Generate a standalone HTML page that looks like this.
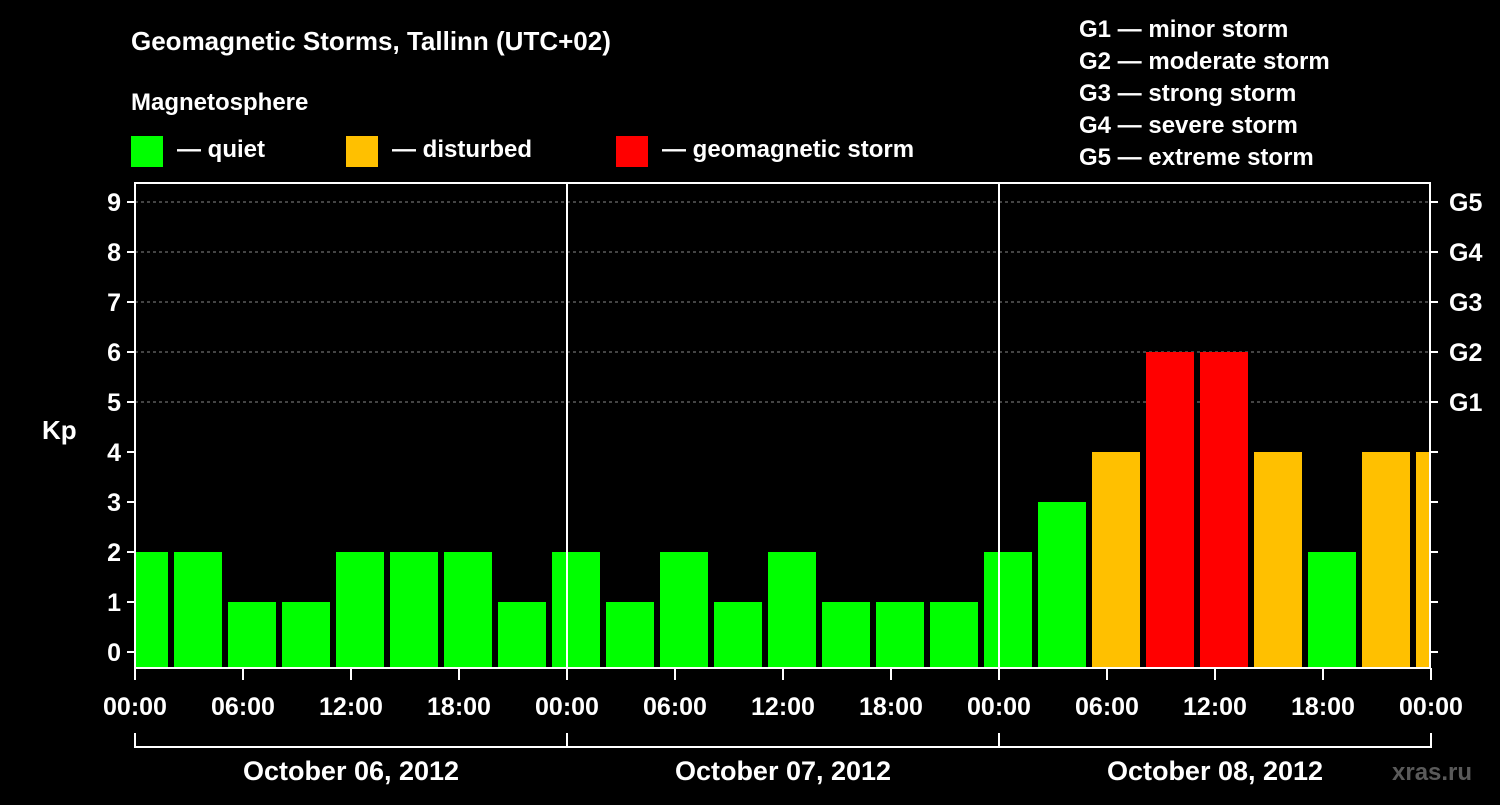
<!DOCTYPE html>
<html><head><meta charset="utf-8"><style>
html,body{margin:0;padding:0;background:#000;}
svg text{font-family:"Liberation Sans",Arial,sans-serif;font-weight:bold;fill:#fff;}
</style></head><body>
<svg id="chart" width="1500" height="800" viewBox="0 0 1500 800" xmlns="http://www.w3.org/2000/svg">
<rect width="1500" height="800" fill="#000"/>
<text x="131" y="50" font-size="26">Geomagnetic Storms, Tallinn (UTC+02)</text>
<text x="131" y="110" font-size="24">Magnetosphere</text>
<g><rect x="131" y="136" width="32" height="31" fill="#00ff00"/><text x="177" y="157" font-size="24">— quiet</text></g>
<g><rect x="346" y="136" width="32" height="31" fill="#ffc000"/><text x="392" y="157" font-size="24">— disturbed</text></g>
<g><rect x="616" y="136" width="32" height="31" fill="#ff0000"/><text x="662" y="157" font-size="24">— geomagnetic storm</text></g>
<g font-size="24">
<text x="1079" y="37">G1 — minor storm</text>
<text x="1079" y="69">G2 — moderate storm</text>
<text x="1079" y="101">G3 — strong storm</text>
<text x="1079" y="133">G4 — severe storm</text>
<text x="1079" y="165">G5 — extreme storm</text>
</g>
<text x="42" y="439" font-size="26">Kp</text>
<text x="1392" y="780" font-size="24" fill="#555" style="fill:#5a5a5a">xras.ru</text>
<defs><clipPath id="plotclip"><rect x="135" y="183" width="1295" height="485"/></clipPath></defs>
<g id="grid"></g>
<g id="bars" clip-path="url(#plotclip)"></g>
<g id="axes"></g>
<rect x="135" y="183" width="1295" height="485" fill="none" stroke="#fff" stroke-width="2"/>
</svg>
<script>
const kpValues = [2,2,1,1,2,2,2,1,2,1,2,1,2,1,1,1,2,3,4,6,6,4,2,4,4];
const yTicks = [0,1,2,3,4,5,6,7,8,9];
const gLabels = ["G1","G2","G3","G4","G5"];
const gLevels = [5,6,7,8,9];
const xTickLabels = ["00:00","06:00","12:00","18:00","00:00","06:00","12:00","18:00","00:00","06:00","12:00","18:00","00:00"];
const dayLabels = ["October 06, 2012","October 07, 2012","October 08, 2012"];

const NS="http://www.w3.org/2000/svg";
const X0=135, PXH=18, Y0=652, PXK=50, BOT=668, TOP=183, RIGHT=1430;
const xAt = h => X0 + h*PXH;
const yAt = k => Y0 - k*PXK;
function mk(tag, attrs, parent){const e=document.createElementNS(NS,tag);for(const k in attrs)e.setAttribute(k,attrs[k]);parent.appendChild(e);return e;}
const grid=document.getElementById('grid'), bars=document.getElementById('bars'), axes=document.getElementById('axes');

gLevels.forEach((v,i)=>{
  const l=mk('line',{x1:X0,x2:RIGHT,y1:yAt(v),y2:yAt(v),stroke:'#888','stroke-dasharray':'3,3','stroke-width':1},grid);
  
  
  const t=mk('text',{x:1449,y:yAt(v)+9,'font-size':25},axes);
  t.textContent=gLabels[i];
  
  
});

kpValues.forEach((v,i)=>{
  const c = xAt(3*i+0.5);
  const color = v>=5?'#ff0000':(v>=4?'#ffc000':'#00ff00');
  const r=mk('rect',{x:c-24,y:yAt(v),width:48,height:BOT-yAt(v),fill:color},bars);
  
  
});

yTicks.forEach(v=>{
  const y=yAt(v);
  mk('line',{x1:X0-8,x2:X0,y1:y,y2:y,stroke:'#fff','stroke-width':2},axes);
  mk('line',{x1:RIGHT,x2:RIGHT+8,y1:y,y2:y,stroke:'#fff','stroke-width':2},axes);
  const t=mk('text',{x:X0-14,y:y+9,'font-size':25,'text-anchor':'end'},axes);
  t.textContent=v;
  
  
});

[1,2].forEach(d=>{
  const l=mk('line',{x1:xAt(24*d),x2:xAt(24*d),y1:TOP,y2:BOT,stroke:'#fff','stroke-width':2},axes);
  
  
});

xTickLabels.forEach((lab,i)=>{
  const x=xAt(i*6);
  mk('line',{x1:x,x2:x,y1:BOT,y2:BOT+12,stroke:'#fff','stroke-width':2},axes);
  const t=mk('text',{x:x,y:715,'font-size':25,'text-anchor':'middle'},axes);
  t.textContent=lab;
  
  
});

mk('line',{x1:X0,x2:RIGHT,y1:747,y2:747,stroke:'#fff','stroke-width':2},axes);
for(let d=0;d<=3;d++){mk('line',{x1:xAt(24*d),x2:xAt(24*d),y1:733,y2:748,stroke:'#fff','stroke-width':2},axes);}
dayLabels.forEach((lab,d)=>{
  const t=mk('text',{x:xAt(24*d+12),y:780,'font-size':27,'text-anchor':'middle'},axes);
  t.textContent=lab;
  
  
});
</script>
</body></html>
